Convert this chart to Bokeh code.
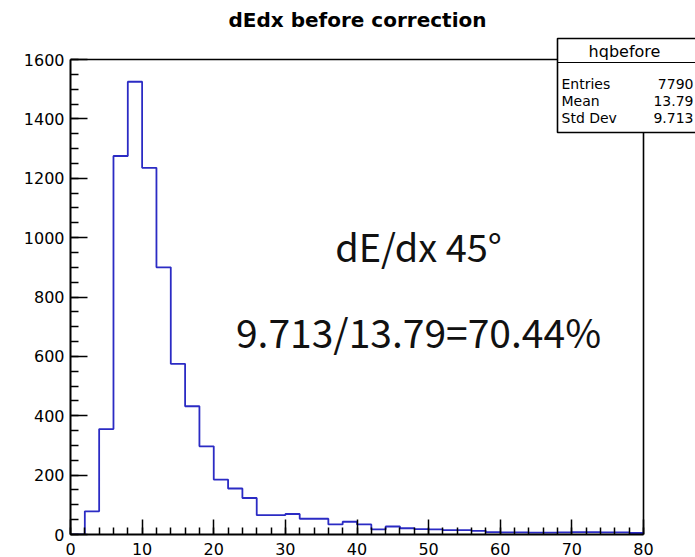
import numpy as np
from bokeh.plotting import figure
from bokeh.models import Range1d, FixedTicker, Label, PolyAnnotation
from bokeh.embed import file_html
from bokeh.resources import INLINE

# ---- data ----
bin_edges = list(range(0, 82, 2))
counts = [0, 78, 355, 1275, 1525, 1235, 900, 575, 432, 297,
          185, 155, 123, 65, 65, 69, 53, 53, 34, 43,
          34, 17, 27, 21, 18, 17, 15, 15, 12, 8,
          7, 7, 6, 6, 7, 8, 8, 7, 7, 5]
x_major = [0, 10, 20, 30, 40, 50, 60, 70, 80]
x_minor = list(range(0, 82, 2))
y_major = [0, 200, 400, 600, 800, 1000, 1200, 1400, 1600]
y_minor = list(range(0, 1650, 50))
title_text = "dEdx before correction"
stats_name = "hqbefore"
stats_keys = ["Entries", "Mean", "Std Dev"]
stats_vals = ["7790", "13.79", "9.713"]
note1 = "dE/dx 45°"
note2 = "9.713/13.79=70.44%"

W, H = 695, 557
FL, FR, FT, FB = 70, 643, 59, 534   # visible histogram frame, canvas px
x_lo, x_hi = x_major[0], x_major[-1]
y_lo, y_hi = y_major[0], y_major[-1]
# the drawing frame spans to the right and top edges of the canvas so the
# stats box and the title (annotations are clipped to the frame) can be shown
px_per_x = (FR - FL) / (x_hi - x_lo)
px_per_y = (FB - FT) / (y_hi - y_lo)
x_end = x_hi + (W - FR) / px_per_x
y_end = y_hi + FT / px_per_y

p = figure(width=W, height=H, output_backend="svg", toolbar_location=None,
           x_range=Range1d(x_lo, x_end), y_range=Range1d(y_lo, y_end),
           min_border_left=FL, min_border_right=0,
           min_border_top=0, min_border_bottom=H - FB)
p.grid.visible = False
p.background_fill_color = "white"
p.border_fill_color = "white"
p.outline_line_color = None

# frame lines on top and right (histogram box)
p.segment(x0=[x_lo, x_hi], y0=[y_hi, y_lo], x1=[x_hi, x_hi], y1=[y_hi, y_hi],
          line_color="black", line_width=1.6)

# histogram outline
xs = bin_edges
ys = counts + [counts[-1]]
p.step(xs, ys, mode="after", line_color="#2b2bc4", line_width=1.8)

tick_font = "DejaVu Sans"
for ax, major, minor, tin, tmin, stand, bnds in (
        (p.xaxis[0], x_major, x_minor, 15, 7, 8, (x_lo, x_hi)),
        (p.yaxis[0], y_major, y_minor, 17, 8, 6, (y_lo, y_hi))):
    ax.ticker = FixedTicker(ticks=major, minor_ticks=minor)
    ax.bounds = bnds
    ax.major_tick_in = tin
    ax.major_tick_out = 0
    ax.minor_tick_in = tmin
    ax.minor_tick_out = 0
    ax.axis_line_width = 2
    ax.axis_line_color = "black"
    ax.major_tick_line_color = "black"
    ax.minor_tick_line_color = "black"
    ax.major_tick_line_width = 1.5
    ax.minor_tick_line_width = 1.5
    ax.major_label_text_font = tick_font
    ax.major_label_text_font_size = "16px"
    ax.major_label_text_color = "black"
    ax.major_label_standoff = stand

# helpers: canvas px -> frame-screen units (origin at frame bottom-left)
def sx(x):
    return x - FL

def sy(y):
    return FB - y

# title
p.add_layout(Label(x=sx(357), y=sy(19), x_units="screen", y_units="screen",
                   text=title_text, text_font="DejaVu Sans",
                   text_font_style="bold", text_font_size="20px",
                   text_align="center", text_baseline="middle",
                   text_color="black"))

# stats box
bx0, bx1, by0, by1, bmid = 557, 700, 38, 132, 62
p.add_layout(PolyAnnotation(xs=[sx(bx0), sx(bx1), sx(bx1), sx(bx0)],
                            ys=[sy(by0), sy(by0), sy(by1), sy(by1)],
                            xs_units="screen", ys_units="screen",
                            fill_color="white", fill_alpha=1.0,
                            line_color="black", line_alpha=1.0,
                            line_width=1.6))
p.add_layout(PolyAnnotation(xs=[sx(bx0), sx(bx1), sx(bx1), sx(bx0)],
                            ys=[sy(bmid), sy(bmid), sy(bmid), sy(bmid)],
                            xs_units="screen", ys_units="screen",
                            fill_alpha=0.0, line_color="black",
                            line_alpha=1.0, line_width=1.2))
p.add_layout(Label(x=sx(624), y=sy(51), x_units="screen", y_units="screen",
                   text=stats_name, text_font="DejaVu Sans",
                   text_font_size="16px", text_align="center",
                   text_baseline="middle", text_color="black"))
row_y = [83, 100, 117]
for k, v, yy in zip(stats_keys, stats_vals, row_y):
    p.add_layout(Label(x=sx(561), y=sy(yy), x_units="screen", y_units="screen",
                       text=k, text_font="DejaVu Sans",
                       text_font_size="14px", text_align="left",
                       text_baseline="middle", text_color="black"))
    p.add_layout(Label(x=sx(693), y=sy(yy), x_units="screen", y_units="screen",
                       text=v, text_font="DejaVu Sans",
                       text_font_size="14px", text_align="right",
                       text_baseline="middle", text_color="black"))

# annotations
p.add_layout(Label(x=sx(418), y=sy(245), x_units="screen", y_units="screen",
                   text=note1, text_font="Noto Sans CJK SC",
                   text_font_size="38px", text_align="center",
                   text_baseline="middle", text_color="#111111"))
p.add_layout(Label(x=sx(418), y=sy(330), x_units="screen", y_units="screen",
                   text=note2, text_font="Noto Sans CJK SC",
                   text_font_size="39px", text_align="center",
                   text_baseline="middle", text_color="#111111"))

open("out.html", "w").write(file_html(p, INLINE))
